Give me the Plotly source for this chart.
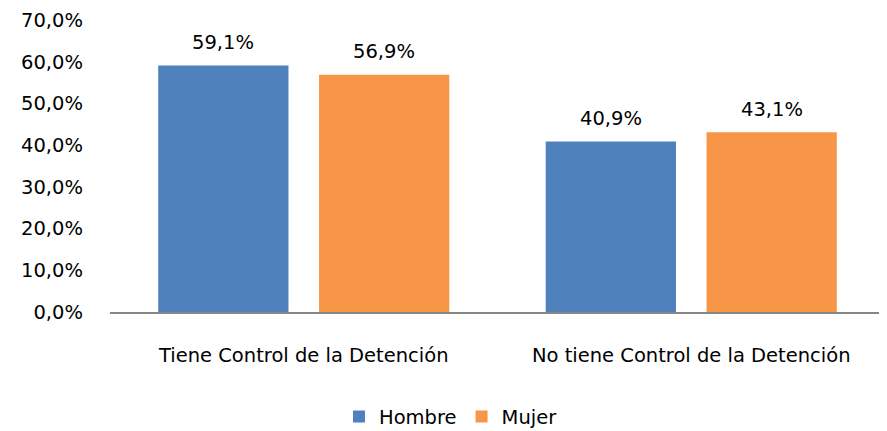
import plotly.graph_objects as go

categories = ["Tiene Control de la Detención", "No tiene Control de la Detención"]
hombre = [59.1, 40.9]
mujer = [56.9, 43.1]
y_ticks = [0, 10, 20, 30, 40, 50, 60, 70]

font_family = "DejaVu Sans, Verdana, sans-serif"
FS = 19.5


def fmt(v):
    return f"{v:.1f}%".replace(".", ",")


fig = go.Figure()
fig.add_trace(go.Bar(name="Hombre", x=categories, y=hombre, marker_color="#4F81BD",
                     marker_line_width=0))
fig.add_trace(go.Bar(name="Mujer", x=categories, y=mujer, marker_color="#F79646",
                     marker_line_width=0))

# value labels above bars
bar_shift = 80.5  # px offset of each bar centre from the category centre
for series, sign in ((hombre, -1), (mujer, 1)):
    for cat, v in zip(categories, series):
        fig.add_annotation(x=cat, y=v, text=fmt(v), showarrow=False,
                           xshift=sign * bar_shift, yshift=23, yanchor="middle",
                           font=dict(size=FS, color="#000000", family=font_family))

# the page adds an 8px body margin, so the figure is sized to the visible area
fig.update_layout(
    width=879, height=423,
    margin=dict(l=102, r=2, t=12, b=119, autoexpand=False),
    paper_bgcolor="white", plot_bgcolor="white",
    barmode="group", bargap=0.17, bargroupgap=0.19,
    font=dict(family=font_family, size=FS, color="#000000"),
    showlegend=True,
    legend=dict(orientation="h", x=0.44, xanchor="center", y=-0.292, yanchor="top",
                font=dict(size=FS), itemwidth=30, traceorder="normal"),
)
fig.update_xaxes(showline=True, linecolor="#868686", linewidth=2, ticks="",
                 tickfont=dict(size=FS), ticklabelstandoff=25, automargin=False)
fig.update_yaxes(range=[0, 70], tickvals=y_ticks, ticktext=[fmt(v) for v in y_ticks],
                 showgrid=False, zeroline=False, showline=False, ticks="",
                 tickfont=dict(size=FS), ticklabelstandoff=26, automargin=False)

fig.write_html("out.html")
